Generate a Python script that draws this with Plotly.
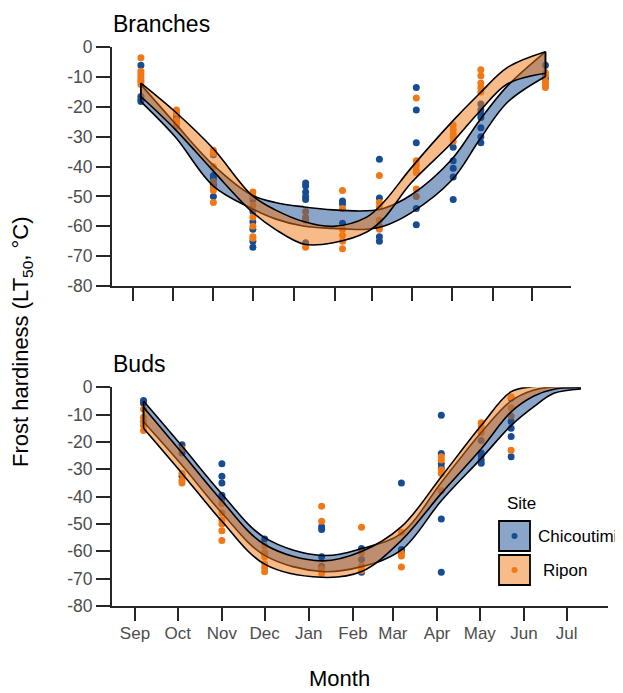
import plotly.graph_objects as go

# The page adds an 8px body margin, so the figure is 8px smaller and all
# positions below are given in window pixels and shifted by that margin.
OFF = 8
W, H = 623 - OFF, 693 - OFF

# ---------------- data ----------------
month_labels = ["Sep", "Oct", "Nov", "Dec", "Jan", "Feb", "Mar", "Apr", "May", "Jun", "Jul"]
month_days = [0, 30, 61, 91, 122, 153, 181, 212, 242, 273, 303]   # days since 1 Sep

branches_sample_days = [6, 33, 61, 91, 131, 159, 187, 215, 243, 264, 313]
buds_sample_days = [6, 33, 61, 91, 131, 159, 187, 215, 243, 264]

branches_chicoutimi = [
    [-6, -16.5, -17.5, -18.2],
    [-23, -24, -26],
    [-36, -43, -44, -46, -50],
    [-51, -55, -58.5, -61, -65, -67],
    [-45.5, -46.5, -48.5, -50, -51, -65.5],
    [-51.5, -52.5, -59],
    [-37.5, -50.5, -63.5, -65],
    [-13.5, -21, -32, -54, -59.5],
    [-33.5, -38, -40.5, -43.5, -51],
    [-19, -21, -22.5, -23.5, -27, -30, -32],
    [-6, -10, -10.5],
]
branches_ripon = [
    [-3.5, -8, -9, -10, -11, -11.5, -12.5],
    [-21, -22, -24.5, -25.5, -26.5],
    [-34.5, -35.5, -40, -45, -47, -48, -52],
    [-48.5, -50, -53, -57, -60, -63.5, -64],
    [-55, -57, -58, -67],
    [-48, -54, -61, -63, -65, -67.5],
    [-43, -52, -53.5, -58, -60, -61],
    [-17, -38, -39.5, -41, -42, -47.5, -50],
    [-26, -27.5, -29, -30, -31.5],
    [-7.5, -9.5, -12, -13.5, -15],
    [-8.5, -9.5, -11.5, -12.5, -13.5],
]
buds_chicoutimi = [
    [-4.8, -5.8],
    [-21, -24, -32.5],
    [-28, -32.5, -35, -39.5, -40.5],
    [-55.5, -61],
    [-51, -52, -62, -65.5],
    [-59, -63, -67.7],
    [-35, -59.3, -60],
    [-10.2, -24.2, -28, -29.5, -48.2, -67.7],
    [-19.5, -24, -25, -26.6, -27.8],
    [-4, -12.5, -15, -18, -25.4],
]
buds_ripon = [
    [-8, -11, -12.5, -14, -15.8],
    [-22.5, -31.5, -34, -35],
    [-42.5, -46, -48.5, -50, -52.5, -56],
    [-58, -60.5, -62, -64.5, -66, -67.5],
    [-43.5, -49, -66.5, -68],
    [-51.2, -60.5, -65.5, -67],
    [-53, -60.7, -61.7, -65.7],
    [-25.4, -26.6, -30.2, -31.5, -37.8],
    [-13, -14.5, -15.6, -16.6],
    [-3.5, -7.5, -10.5, -23],
]

# fitted bands (confidence ribbons) read at knots
branches_fit_days = [6, 32, 61, 90, 108, 130, 152, 177, 190, 211, 242, 263, 284, 313]
branches_chic_upper = [-12.5, -25.5, -39.5, -49.5, -52, -53.5, -54.5, -54.8, -54, -49.5, -37.5, -24.5, -13, -1.5]
branches_chic_lower = [-18.2, -30, -46.5, -54, -57.5, -60, -60.7, -61, -60, -55.5, -44.5, -31, -18.5, -9.8]
branches_ripon_upper = [-12, -21.6, -34, -49.5, -54.5, -58.5, -60, -57, -52, -40.5, -25, -15.5, -6.8, -1.5]
branches_ripon_lower = [-16.5, -27.5, -41.5, -55, -61, -66, -65.5, -62, -57.5, -45.5, -32, -21.5, -12.3, -8.7]

buds_fit_days = [6, 33, 61, 91, 131, 159, 187, 215, 243, 264, 280, 294, 313]
buds_chic_upper = [-5, -21.5, -39, -55, -61.5, -59, -53.4, -34.8, -16.5, -5, -1, 0.2, 0.5]
buds_chic_lower = [-12.6, -28.5, -46, -61.5, -67.4, -65.6, -59.5, -41.5, -26, -14, -7.1, -2.2, -0.6]
buds_ripon_upper = [-7.3, -24, -41.5, -57.5, -63.5, -60.1, -51, -32.7, -14, -1.6, 0.3, 0.8, 1]
buds_ripon_lower = [-15, -31.5, -49, -64.7, -69.5, -67.4, -56, -38.8, -22.5, -9, -3.2, -0.7, -0.2]

y_ticks = [0, -10, -20, -30, -40, -50, -60, -70, -80]
y_tick_labels = ["0", "-10", "-20", "-30", "-40", "-50", "-60", "-70", "-80"]

# ---------------- styles ----------------
CHIC_PT = "rgb(24,76,146)"
RIP_PT = "rgb(240,120,22)"
CHIC_FILL = "rgba(24,76,146,0.5)"
RIP_FILL = "rgba(240,120,22,0.5)"
FONT = "Liberation Sans, Arial, sans-serif"
AX = "#262626"
TICKC = "#4d4d4d"


def px_x(p):
    return (p - OFF) / W


def px_y(p):
    return 1 - (p - OFF) / H


fig = go.Figure()


def add_points(days, groups, color, xa, ya):
    xs, ys = [], []
    for d, vals in zip(days, groups):
        for v in vals:
            xs.append(d)
            ys.append(v)
    fig.add_trace(go.Scatter(x=xs, y=ys, mode="markers", xaxis=xa, yaxis=ya,
                             marker=dict(color=color, size=7, line=dict(width=0)),
                             showlegend=False, hoverinfo="skip"))


def add_band(days, upper, lower, fill, xa, ya):
    fig.add_trace(go.Scatter(x=days, y=upper, mode="lines", xaxis=xa, yaxis=ya,
                             line=dict(color="black", width=1.6, shape="spline"),
                             showlegend=False, hoverinfo="skip"))
    fig.add_trace(go.Scatter(x=days, y=lower, mode="lines", xaxis=xa, yaxis=ya,
                             fill="tonexty", fillcolor=fill,
                             line=dict(color="black", width=1.6, shape="spline"),
                             showlegend=False, hoverinfo="skip"))


def add_caps(days, upper, lower, xa, ya, ends=(0, -1)):
    for i in ends:
        fig.add_trace(go.Scatter(x=[days[i], days[i]], y=[upper[i], lower[i]], mode="lines",
                                 xaxis=xa, yaxis=ya, line=dict(color="black", width=1.6),
                                 showlegend=False, hoverinfo="skip"))


# top panel: Branches
add_points(branches_sample_days, branches_chicoutimi, CHIC_PT, "x", "y")
add_points(branches_sample_days, branches_ripon, RIP_PT, "x", "y")
add_band(branches_fit_days, branches_chic_upper, branches_chic_lower, CHIC_FILL, "x", "y")
add_caps(branches_fit_days, branches_chic_upper, branches_chic_lower, "x", "y")
add_band(branches_fit_days, branches_ripon_upper, branches_ripon_lower, RIP_FILL, "x", "y")
add_caps(branches_fit_days, branches_ripon_upper, branches_ripon_lower, "x", "y")

# bottom panel: Buds
add_points(buds_sample_days, buds_chicoutimi, CHIC_PT, "x2", "y2")
add_points(buds_sample_days, buds_ripon, RIP_PT, "x2", "y2")
add_band(buds_fit_days, buds_chic_upper, buds_chic_lower, CHIC_FILL, "x2", "y2")
add_caps(buds_fit_days, buds_chic_upper, buds_chic_lower, "x2", "y2", ends=(0,))
add_band(buds_fit_days, buds_ripon_upper, buds_ripon_lower, RIP_FILL, "x2", "y2")
add_caps(buds_fit_days, buds_ripon_upper, buds_ripon_lower, "x2", "y2", ends=(0,))

xcommon = dict(showline=True, linecolor=AX, linewidth=1.8, ticks="outside", ticklen=13,
               tickwidth=1.8, tickcolor=AX, tickvals=month_days, ticktext=month_labels,
               showgrid=False, zeroline=False, automargin=False, ticklabelstandoff=-2,
               tickfont=dict(family=FONT, size=17, color=TICKC))
ycommon = dict(showline=True, linecolor=AX, linewidth=1.8, ticks="outside", ticklen=14,
               tickwidth=1.8, tickcolor=AX, range=[-80, 0], tickvals=y_ticks,
               ticktext=y_tick_labels, showgrid=False, zeroline=False, automargin=False,
               tickfont=dict(family=FONT, size=17.5, color=TICKC))

fig.update_layout(
    width=W, height=H,
    margin=dict(l=0, r=0, t=0, b=0, pad=0),
    paper_bgcolor="white", plot_bgcolor="white",
    showlegend=False,
    font=dict(family=FONT, color="black"),
    xaxis=dict(domain=[px_x(112), px_x(571)], range=[-15.94, 332.4], anchor="y",
               showticklabels=False, **xcommon),
    yaxis=dict(domain=[px_y(286), px_y(47.3)], anchor="x", **ycommon),
    xaxis2=dict(domain=[px_x(112), px_x(608)], range=[-16.14, 332.0], anchor="y2",
                showticklabels=True, **xcommon),
    yaxis2=dict(domain=[px_y(606), px_y(387.3)], anchor="x2", **ycommon),
)

annotations = [
    dict(text="Branches", x=px_x(111), y=px_y(24), xanchor="left", yanchor="middle",
         font=dict(size=23, color="black", family=FONT)),
    dict(text="Buds", x=px_x(111), y=px_y(364), xanchor="left", yanchor="middle",
         font=dict(size=23, color="black", family=FONT)),
    dict(text="Frost hardiness (LT<sub>50</sub>, °C)", x=px_x(22), y=px_y(342), textangle=-90,
         xanchor="center", yanchor="middle", font=dict(size=22, color="black", family=FONT)),
    dict(text="Month", x=px_x(339), y=px_y(678), xanchor="center", yanchor="middle",
         font=dict(size=22, color="black", family=FONT)),
    dict(text="Site", x=px_x(505), y=px_y(503), xanchor="left", yanchor="middle",
         font=dict(size=17, color="black", family=FONT)),
    dict(text="Chicoutimi", x=px_x(536), y=px_y(536.5), xanchor="left", yanchor="middle",
         font=dict(size=17, color="black", family=FONT)),
    dict(text="Ripon", x=px_x(541), y=px_y(570), xanchor="left", yanchor="middle",
         font=dict(size=17, color="black", family=FONT)),
]
for a in annotations:
    a.update(xref="paper", yref="paper", showarrow=False)
fig.update_layout(annotations=annotations)

shapes = [
    dict(type="rect", x0=px_x(499), x1=px_x(530), y0=px_y(551), y1=px_y(521),
         fillcolor="rgb(139,165,200)", line=dict(color="black", width=1.8)),
    dict(type="rect", x0=px_x(499), x1=px_x(530), y0=px_y(585), y1=px_y(555),
         fillcolor="rgb(247,188,138)", line=dict(color="black", width=1.8)),
    dict(type="circle", x0=px_x(511.5), x1=px_x(517.5), y0=px_y(539), y1=px_y(533),
         fillcolor=CHIC_PT, line=dict(width=0)),
    dict(type="circle", x0=px_x(511.5), x1=px_x(517.5), y0=px_y(573), y1=px_y(567),
         fillcolor=RIP_PT, line=dict(width=0)),
]
for s in shapes:
    s.update(xref="paper", yref="paper", layer="above")
fig.update_layout(shapes=shapes)

fig.write_html("out.html")
